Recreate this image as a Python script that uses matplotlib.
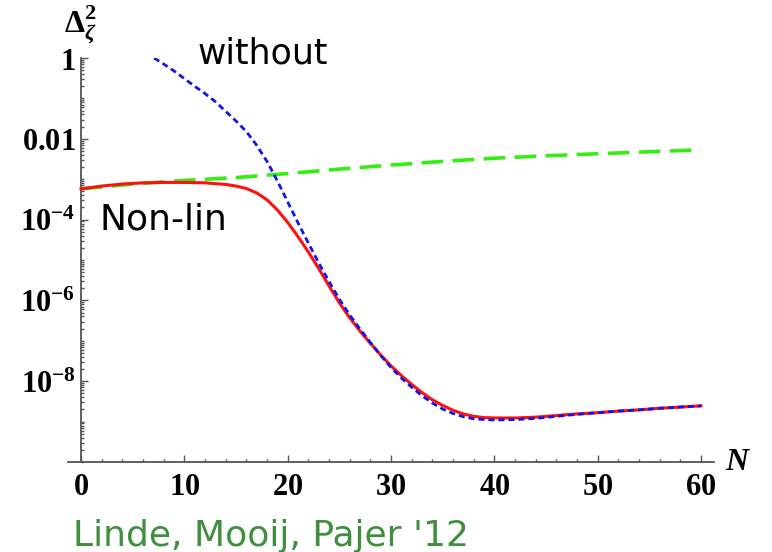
import numpy as np
import matplotlib
matplotlib.use("Agg")
import matplotlib.pyplot as plt
from matplotlib.ticker import FixedLocator, FixedFormatter, LogLocator, NullFormatter

plt.rcParams['mathtext.fontset'] = 'custom'
plt.rcParams['mathtext.rm'] = 'Liberation Serif:bold'
plt.rcParams['mathtext.bf'] = 'Liberation Serif:bold'
plt.rcParams['mathtext.it'] = 'Liberation Serif:italic:bold'

# e-folds N and log10 of the power spectrum for each curve
n_red = [0, 2, 4, 6, 8, 10, 12, 13, 14, 15, 16, 17, 18, 19, 20, 21, 22, 23, 24, 25,
         26, 27, 28, 29, 30, 31, 32, 33, 34, 35, 36, 37, 38, 39, 40, 42, 44, 46, 48,
         50, 52, 54, 56, 58, 60]
log_red = [-3.24, -3.17, -3.12, -3.09, -3.08, -3.08, -3.09, -3.11, -3.13, -3.17, -3.23,
           -3.34, -3.51, -3.76, -4.07, -4.42, -4.80, -5.21, -5.64, -6.06, -6.43, -6.76,
           -7.06, -7.35, -7.62, -7.86, -8.08, -8.28, -8.46, -8.60, -8.72, -8.81, -8.87,
           -8.90, -8.91, -8.91, -8.89, -8.85, -8.81, -8.78, -8.74, -8.71, -8.67, -8.64,
           -8.61]

n_blue = [7.07, 8, 9, 10, 11, 12, 13, 14, 15, 16, 17, 18, 19, 20, 21, 22, 23, 24, 25,
          26, 27, 28, 29, 30, 31, 32, 33, 34, 35, 36, 37, 38, 39, 40, 42, 44, 46, 48,
          50, 52, 54, 56, 58, 60]
log_blue = [0.0, -0.15, -0.32, -0.51, -0.70, -0.88, -1.08, -1.32, -1.56, -1.82, -2.16,
            -2.56, -3.04, -3.56, -4.08, -4.58, -5.07, -5.53, -5.97, -6.36, -6.71, -7.04,
            -7.36, -7.66, -7.92, -8.15, -8.36, -8.54, -8.69, -8.80, -8.88, -8.93, -8.95,
            -8.96, -8.95, -8.92, -8.87, -8.82, -8.78, -8.74, -8.71, -8.67, -8.64, -8.61]

n_green = [0, 5, 10, 15, 20, 25, 30, 35, 40, 45, 50, 55, 60]
log_green = [-3.24, -3.12, -3.03, -2.96, -2.86, -2.75, -2.65, -2.56, -2.48, -2.42,
             -2.37, -2.32, -2.27]

ytick_vals = [1, 1e-2, 1e-4, 1e-6, 1e-8]
ytick_labels = ['$1$', '$0.01$', '$10^{-4}$', '$10^{-6}$', '$10^{-8}$']
xtick_vals = [0, 10, 20, 30, 40, 50, 60]

W, H = 772, 552
fig = plt.figure(figsize=(W / 100, H / 100), dpi=100)
ax = fig.add_axes([68 / W, 1 - 462 / H, (714 - 68) / W, (462 - 58) / H])
ax.set_yscale('log')
ax.set_xlim(-1.26, 61.26)
ax.set_ylim(1e-10, 1)

ax.plot(n_green, 10 ** np.array(log_green), color='#33ee11', lw=2.6,
        dashes=(6, 2.6), zorder=2)
ax.plot(n_red, 10 ** np.array(log_red), color='#ff1010', lw=2.2, zorder=3)
ax.plot(n_blue, 10 ** np.array(log_blue), color='#1414e6', lw=2.0,
        dashes=(2.2, 1.4), zorder=4)

for s in ['top', 'right']:
    ax.spines[s].set_visible(False)
ax.spines['left'].set_position(('data', 0))
for s in ['left', 'bottom']:
    ax.spines[s].set_color('#555555')
    ax.spines[s].set_linewidth(1.3)

ax.yaxis.set_major_locator(FixedLocator(ytick_vals))
ax.yaxis.set_major_formatter(FixedFormatter(ytick_labels))
ax.yaxis.set_minor_locator(LogLocator(base=10, subs=np.arange(1, 10), numticks=50))
ax.yaxis.set_minor_formatter(NullFormatter())
ax.xaxis.set_major_locator(FixedLocator(xtick_vals))
ax.xaxis.set_minor_locator(FixedLocator(np.arange(0, 61, 2)))
ax.set_xticklabels(['$%d$' % v for v in xtick_vals])

ax.tick_params(which='both', direction='in', color='#555555', width=1.0)
ax.tick_params(which='major', length=5, labelsize=22)
ax.tick_params(which='minor', length=2.5)
ax.tick_params(axis='x', which='major', pad=7)
ax.tick_params(axis='y', which='major', pad=4)

fig.text(64 / W, 1 - 33 / H, r'$\Delta^{2}_{\zeta}$', fontsize=23, ha='left',
         va='baseline')
fig.text(725 / W, 1 - 470 / H, '$N$', fontsize=23, ha='left', va='baseline',
         family='Liberation Serif', style='italic')
fig.text(198 / W, 1 - 63 / H, 'without', fontsize=25, ha='left', va='baseline',
         family='DejaVu Sans')
fig.text(100 / W, 1 - 229 / H, 'Non-lin', fontsize=26, ha='left', va='baseline',
         family='DejaVu Sans')
fig.text(73 / W, 1 - 546 / H, "Linde, Mooij, Pajer '12", fontsize=26, ha='left',
         va='baseline', family='DejaVu Sans', color='#3f8f3f')

fig.savefig('out.png', dpi=100)
